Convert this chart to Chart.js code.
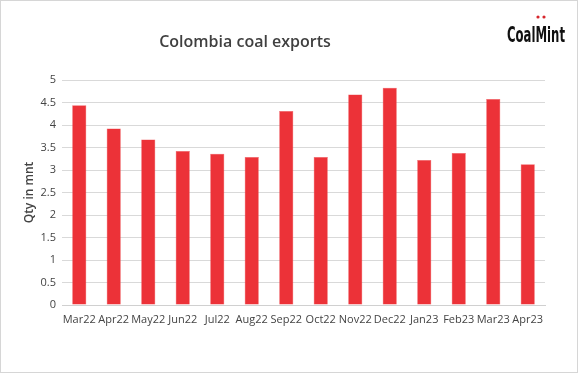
<!DOCTYPE html>
<html>
<head>
<meta charset="utf-8">
<script src="https://cdn.jsdelivr.net/npm/chart.js@4/dist/chart.umd.min.js"></script>
<style>
  html, body { margin: 0; padding: 0; background: #fff; }
  #wrap { width: 580px; height: 376px; position: relative; }
</style>
</head>
<body>
<div id="wrap"><canvas id="coalChart" width="580" height="376"></canvas></div>
<script>
const months = ['Mar22', 'Apr22', 'May22', 'Jun22', 'Jul22', 'Aug22', 'Sep22', 'Oct22', 'Nov22', 'Dec22', 'Jan23', 'Feb23', 'Mar23', 'Apr23'];
const exportsMnt = [4.44, 3.92, 3.68, 3.42, 3.36, 3.29, 4.31, 3.29, 4.68, 4.83, 3.22, 3.38, 4.58, 3.13];
const yTicks = [0, 0.5, 1, 1.5, 2, 2.5, 3, 3.5, 4, 4.5, 5];

const fontFam = '"Open Sans", Lato, sans-serif';

// frame, title and logo
const decorations = {
    id: 'decorations',
    beforeDraw(chart) {
        const ctx = chart.ctx;
        ctx.save();
        ctx.fillStyle = '#fff';
        ctx.fillRect(0, 0, chart.width, chart.height);
        ctx.strokeStyle = '#d6d6d6';
        ctx.lineWidth = 1;
        ctx.strokeRect(0.5, 0.5, 577, 372);
        ctx.restore();
    },
    afterDraw(chart) {
        const ctx = chart.ctx;
        ctx.save();
        ctx.fillStyle = '#404040';
        ctx.font = '600 16px ' + fontFam;
        ctx.textAlign = 'center';
        ctx.textBaseline = 'middle';
        ctx.fillText('Colombia coal exports', 245, 42);
        ctx.restore();

        // logo, squeezed to a narrow width
        ctx.save();
        ctx.fillStyle = '#111';
        ctx.font = 'bold 22px "DejaVu Sans", sans-serif';
        ctx.textAlign = 'left';
        ctx.textBaseline = 'alphabetic';
        const w = ctx.measureText('CoalMint').width;
        ctx.translate(507, 42);
        ctx.scale(58 / w, 1);
        ctx.fillText('CoalMint', 0, 0);
        ctx.restore();
        ctx.save();
        ctx.fillStyle = '#d7262c';
        ctx.beginPath();
        ctx.arc(538, 17, 1.6, 0, Math.PI * 2);
        ctx.arc(544, 17, 1.6, 0, Math.PI * 2);
        ctx.fill();
        ctx.restore();
    }
};

new Chart(document.getElementById('coalChart').getContext('2d'), {
    type: 'bar',
    data: {
        labels: months,
        datasets: [{
            label: 'Qty in mnt',
            data: exportsMnt,
            backgroundColor: '#ec3238',
            borderColor: '#f0595d',
            borderWidth: 0.5,
            categoryPercentage: 1,
            barPercentage: 0.41
        }]
    },
    options: {
        responsive: false,
        animation: false,
        layout: { padding: { left: 20, right: 35, top: 80, bottom: 40 } },
        plugins: {
            legend: { display: false },
            tooltip: { enabled: false }
        },
        scales: {
            x: {
                grid: { display: false, drawTicks: false },
                border: { color: '#d0d0d0' },
                ticks: {
                    color: '#444',
                    padding: 8,
                    maxRotation: 0,
                    autoSkip: false,
                    font: { family: fontFam, size: 11 }
                },
                afterFit: function (scale) { scale.height = 31; }
            },
            y: {
                min: 0,
                max: 5,
                afterBuildTicks: function (scale) {
                    scale.ticks = yTicks.map(v => ({ value: v }));
                },
                grid: { color: '#d9d9d9', drawTicks: false },
                border: { display: false },
                ticks: {
                    color: '#444',
                    padding: 6,
                    font: { family: fontFam, size: 11 },
                    callback: function (value) { return value; }
                },
                title: {
                    display: true,
                    text: 'Qty in mnt',
                    color: '#444',
                    padding: 2,
                    font: { family: fontFam, size: 12, weight: '600' }
                },
                afterFit: function (scale) { scale.width = 42; }
            }
        }
    },
    plugins: [decorations]
});
</script>
</body>
</html>
